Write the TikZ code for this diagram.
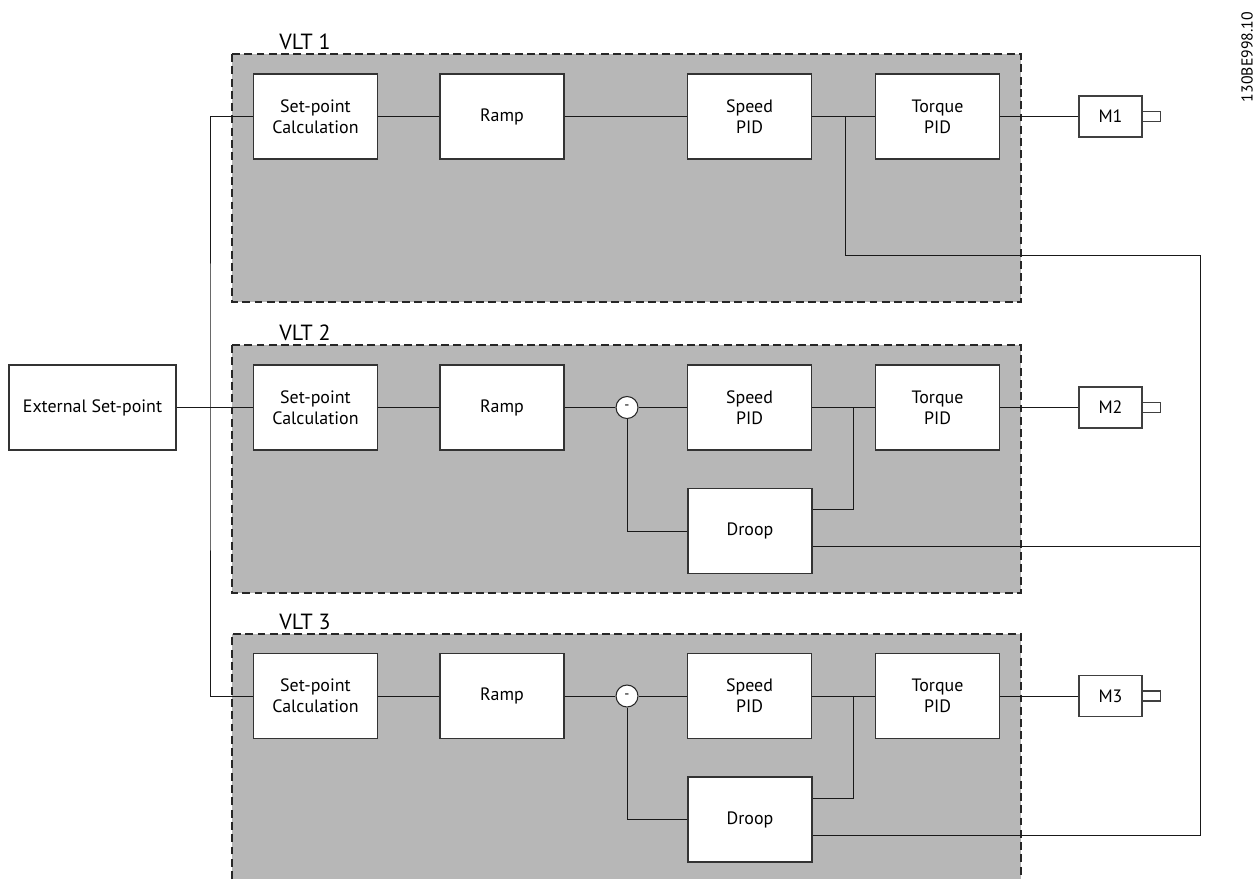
\documentclass[tikz,border=0pt]{standalone}
\usepackage{fontspec}
\setmainfont{PT Sans}
\definecolor{panelgray}{RGB}{183,183,183}
\usepackage{tikz}
\usetikzlibrary{
    positioning,
    calc
}
\tikzstyle{panel} = [
    fill=panelgray,
    draw=black!85,
    line width=0.6pt,
    dash pattern=on 4.5pt off 2.5pt
]
\tikzstyle{block} = [
    draw=black!80,
    fill=white,
    line width=0.6pt,
    minimum width=2.48cm,
    minimum height=1.7cm,
    align=center,
    font=\fontsize{10.2pt}{12pt}\selectfont
]
\tikzstyle{motor} = [
    draw=black!75,
    fill=white,
    line width=0.6pt,
    minimum width=1.26cm,
    minimum height=0.82cm,
    font=\fontsize{10.2pt}{12pt}\selectfont
]
\tikzstyle{sumnode} = [
    circle,
    draw=black!85,
    fill=white,
    line width=0.6pt,
    minimum size=0.44cm,
    inner sep=0pt,
    font=\fontsize{8pt}{9pt}\selectfont
]
\tikzstyle{wire} = [
    draw=black!90,
    line width=0.55pt
]
\tikzstyle{vltlabel} = [
    anchor=west,
    inner sep=0pt,
    font=\fontsize{12.5pt}{14pt}\selectfont
]

\begin{document}
\begin{tikzpicture}[x=0.02cm, y=-0.02cm]
        \useasboundingbox (0,0) rectangle (1256,879);

        % Drive panels
        \draw[panel] (232,54) rectangle (1021,302);
        \node[vltlabel] (vlt1) at (279,42) {VLT 1};
        \draw[panel] (232,345) rectangle (1021,593);
        \node[vltlabel] (vlt2) at (279,333) {VLT 2};
        \fill[panelgray] (232,634) rectangle (1021,879);
        \draw[panel, fill=none] (232,879) -- (232,634) -- (1021,634) -- (1021,879);
        \node[vltlabel] (vlt3) at (279,622) {VLT 3};

        % Drawing number
        \node[rotate=90, inner sep=0pt, font=\fontsize{9pt}{10pt}\selectfont] (docnr) at (1247,57) {130BE998.10};

        % External set-point
        \node[block, minimum width=3.34cm] (ext) at (92.5,407.5) {External Set-point};

        % VLT 1
        \node[block] (spc1) at (315.5,116.5) {Set-point\\Calculation};
        \node[block] (ramp1) at (502,116.5) {Ramp};
        \node[block] (spid1) at (749.5,116.5) {Speed\\PID};
        \node[block] (tpid1) at (937.5,116.5) {Torque\\PID};
        \node[motor] (m1) at (1110.5,116.5) {M1};

        % VLT 2
        \node[block] (spc2) at (315.5,407.5) {Set-point\\Calculation};
        \node[block] (ramp2) at (502,407.5) {Ramp};
        \node[sumnode] (sum2) at (627,407.5) {-};
        \node[block] (spid2) at (749.5,407.5) {Speed\\PID};
        \node[block] (tpid2) at (937.5,407.5) {Torque\\PID};
        \node[block] (droop2) at (750,531) {Droop};
        \node[motor] (m2) at (1110.5,407.5) {M2};

        % VLT 3
        \node[block] (spc3) at (315.5,696) {Set-point\\Calculation};
        \node[block] (ramp3) at (502,696) {Ramp};
        \node[sumnode] (sum3) at (627,696) {-};
        \node[block] (spid3) at (749.5,696) {Speed\\PID};
        \node[block] (tpid3) at (937.5,696) {Torque\\PID};
        \node[block] (droop3) at (750,819.5) {Droop};
        \node[motor] (m3) at (1110.5,696) {M3};

        % Motor shafts
        \foreach \m in {m1,m2,m3}
            \draw[draw=black!75, line width=0.6pt] (\m.east) ++(0,-5) rectangle ++(18,10);

        % Set-point distribution
        \coordinate (split) at (210,407.5);
        \draw[wire] (ext) -- (spc2);
        \draw[wire] (spc1.west) -| (split) |- (spc3.west);

        % Signal chains
        \draw[wire] (spc1) -- (ramp1) -- (spid1) -- (tpid1) -- (m1);
        \draw[wire] (spc2) -- (ramp2) -- (sum2) -- (spid2) -- (tpid2) -- (m2);
        \draw[wire] (spc3) -- (ramp3) -- (sum3) -- (spid3) -- (tpid3) -- (m3);

        % Droop feedback
        \coordinate (tap2) at (853,407.5);
        \coordinate (tap3) at (853,696);
        \draw[wire] (tap2) |- ($(droop2.east)+(0,-22)$);
        \draw[wire] (tap3) |- ($(droop3.east)+(0,-21.5)$);
        \draw[wire] (droop2.west) -| (sum2.south);
        \draw[wire] (droop3.west) -| (sum3.south);

        % Speed reference bus from VLT 1
        \coordinate (tap1) at (845,116.5);
        \coordinate (bustop) at (1200,255);
        \coordinate (out2) at ($(droop2.east)+(0,15)$);
        \coordinate (out3) at ($(droop3.east)+(0,15.5)$);
        \draw[wire] (tap1) |- (bustop) |- (out3);
        \draw[wire] (out2) -- (out2 -| bustop);
    \end{tikzpicture}
\end{document}
